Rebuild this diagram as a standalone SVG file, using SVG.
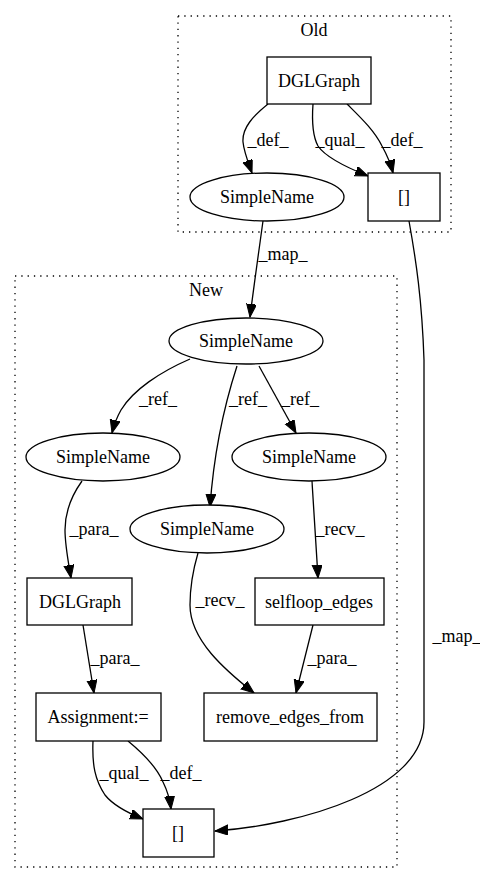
<svg xmlns="http://www.w3.org/2000/svg" width="480" height="884" viewBox="0 0 480 884" font-family="'Liberation Serif', 'Times New Roman', Times, serif" font-size="18" fill="#000000">
<style>
.t{font-family:"Liberation Serif","Times New Roman",Times,serif;font-size:18px;fill:#000000;text-anchor:middle}
.cl{fill:none;stroke:#000;stroke-width:1.3;stroke-dasharray:1.3,5}
.n{fill:#fff;stroke:#000;stroke-width:1.3}
.e{fill:none;stroke:#000;stroke-width:1.3;marker-end:url(#ah)}
</style>
<defs>
<marker id="ah" markerUnits="userSpaceOnUse" markerWidth="14" markerHeight="11" refX="13" refY="5" orient="auto">
<path d="M0,0 L13,5 L0,10 z" fill="#000" stroke="#000" stroke-width="1"/>
</marker>
</defs>
<rect width="480" height="884" fill="#fff"/>
<g id="cluster_old">
<rect class="cl" x="178" y="16" width="273" height="216"/>
<text class="t" x="314" y="36">Old</text>
</g>
<g id="cluster_new">
<rect class="cl" x="15" y="276" width="382" height="591"/>
<text class="t" x="206" y="296">New</text>
</g>
<g id="connectors">
<path class="e" d="M268,104 C253,116 242,128 243,142 C244,152 248,162 252,173"/>
<text class="t" x="268" y="146">_def_</text>
<path class="e" d="M313,104 C312,118 312,135 318,146 C326,158 348,168 368,176"/>
<text class="t" x="340" y="146">_qual_</text>
<path class="e" d="M347,104 C360,117 374,130 382,146 C387,155 391,165 393,173"/>
<text class="t" x="402" y="146">_def_</text>
<path class="e" d="M263,221 C259,250 254,285 250,317"/>
<text class="t" x="283" y="260">_map_</text>
<path class="e" d="M409,221 C416,260 422,300 424,360 L424,722 C424,790 300,825 215,831"/>
<text class="t" x="457" y="642">_map_</text>
<path class="e" d="M190,359 C160,372 133,390 121,410 C117,417 114,425 112,433"/>
<text class="t" x="158" y="405">_ref_</text>
<path class="e" d="M237,366 C226,400 214,450 210,507"/>
<text class="t" x="248" y="405">_ref_</text>
<path class="e" d="M259,366 L296,433"/>
<text class="t" x="300" y="405">_ref_</text>
<path class="e" d="M82,481 C72,495 65,510 65,530 C65,545 68,560 71,578"/>
<text class="t" x="94" y="535">_para_</text>
<path class="e" d="M312,481 L318,578"/>
<text class="t" x="340" y="535">_recv_</text>
<path class="e" d="M198,553 C193,570 190,590 190,605 C190,640 225,670 254,693"/>
<text class="t" x="220" y="606">_recv_</text>
<path class="e" d="M313,625 L296,693"/>
<text class="t" x="332" y="664">_para_</text>
<path class="e" d="M83,625 L94,693"/>
<text class="t" x="115" y="664">_para_</text>
<path class="e" d="M93,741 C92,765 95,780 105,795 C113,805 128,813 143,819"/>
<text class="t" x="124" y="779">_qual_</text>
<path class="e" d="M128,741 C145,755 158,770 163,782 C167,790 170,800 171,809"/>
<text class="t" x="181" y="779">_def_</text>
</g>
<g id="old_dglgraph">
<rect class="n" x="267" y="57" width="104" height="47"/>
<text class="t" x="319" y="87">DGLGraph</text>
</g>
<g id="old_simplename">
<ellipse class="n" cx="267" cy="197" rx="77" ry="24"/>
<text class="t" x="267" y="203">SimpleName</text>
</g>
<g id="old_index">
<rect class="n" x="368" y="173" width="72" height="48"/>
<text class="t" x="404" y="203">[]</text>
</g>
<g id="new_simplename_top">
<ellipse class="n" cx="246" cy="341" rx="77" ry="23"/>
<text class="t" x="246" y="347">SimpleName</text>
</g>
<g id="new_simplename_left">
<ellipse class="n" cx="103" cy="457" rx="77" ry="24"/>
<text class="t" x="103" y="463">SimpleName</text>
</g>
<g id="new_simplename_right">
<ellipse class="n" cx="309" cy="457" rx="77" ry="24"/>
<text class="t" x="309" y="463">SimpleName</text>
</g>
<g id="new_simplename_mid">
<ellipse class="n" cx="207" cy="529" rx="77" ry="24"/>
<text class="t" x="207" y="535">SimpleName</text>
</g>
<g id="new_dglgraph">
<rect class="n" x="27" y="578" width="105" height="47"/>
<text class="t" x="80" y="608">DGLGraph</text>
</g>
<g id="selfloop_edges">
<rect class="n" x="255" y="578" width="129" height="47"/>
<text class="t" x="319" y="608">selfloop_edges</text>
</g>
<g id="assignment">
<rect class="n" x="36" y="693" width="125" height="48"/>
<text class="t" x="98" y="723">Assignment:=</text>
</g>
<g id="remove_edges_from">
<rect class="n" x="204" y="693" width="173" height="48"/>
<text class="t" x="290" y="723">remove_edges_from</text>
</g>
<g id="new_index">
<rect class="n" x="143" y="809" width="71" height="48"/>
<text class="t" x="178" y="839">[]</text>
</g>
</svg>
